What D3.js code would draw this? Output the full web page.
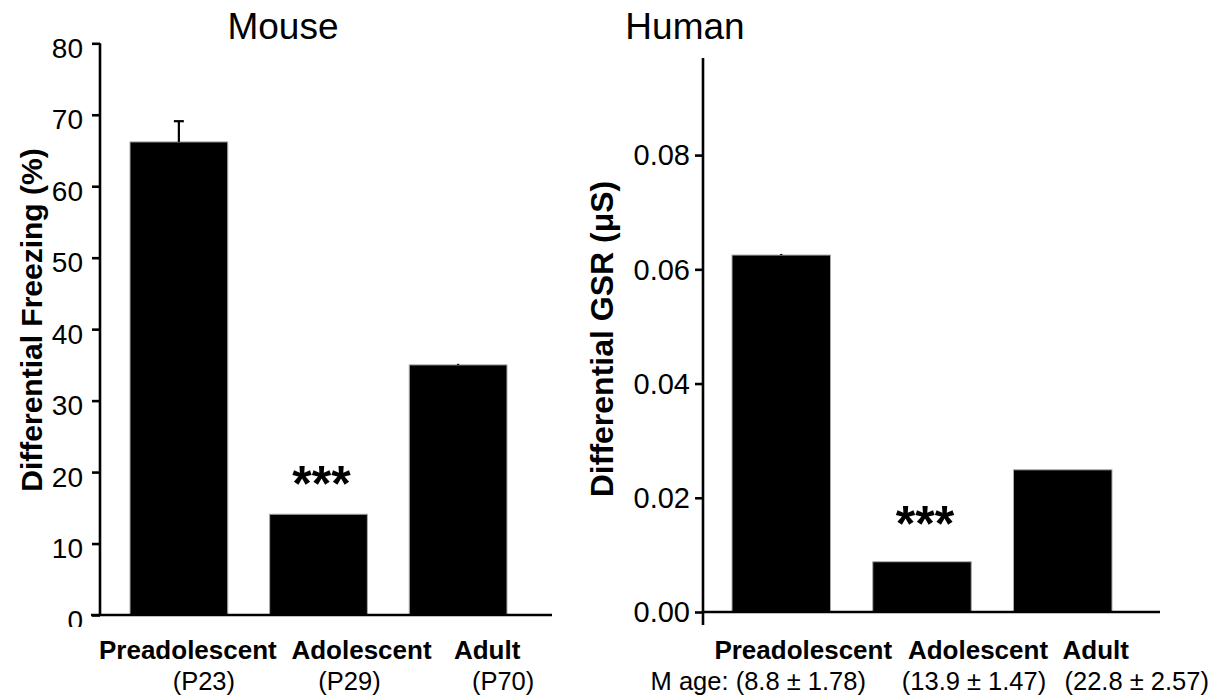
<!DOCTYPE html>
<html>
<head>
<meta charset="utf-8">
<script src="https://cdn.jsdelivr.net/npm/d3@7"></script>
<style>
  body { margin: 0; background: #fff; }
  text { font-family: "Liberation Sans", Arial, sans-serif; fill: #000; }
</style>
</head>
<body>
<svg id="chart" width="1216" height="698"></svg>
<script>
// values
const groups = ["Preadolescent", "Adolescent", "Adult"];
const mouseAges = ["(P23)", "(P29)", "(P70)"];
const humanAges = ["M age: (8.8 ± 1.78)", "(13.9 ± 1.47)", "(22.8 ± 2.57)"];

const mouseFreezing = [66.2, 14.1, 35.0];
const mouseErr = [2.9, 0, 0.15];
const mouseTicks = [0, 10, 20, 30, 40, 50, 60, 70, 80];

const humanGSR = [0.0625, 0.0088, 0.0249];
const humanErr = [0.0002, 0, 0];
const humanTicks = [0, 0.02, 0.04, 0.06, 0.08];

const svg = d3.select("#chart");

function drawPanel(p) {
  let g = svg.append("g");

  let x = d3.scaleBand()
    .domain(groups)
    .range(p.band)
    .paddingInner(0.3);

  let y = d3.scaleLinear()
    .domain(p.domain)
    .range(p.yRange);

  let mid = d => x(d) + x.bandwidth() / 2;

  g.append("text")
    .attr("x", p.titleX)
    .attr("y", 39)
    .attr("text-anchor", "middle")
    .attr("font-size", 37)
    .text(p.title);

  // bars
  g.selectAll("rect.bar")
    .data(p.values)
    .join("rect")
    .attr("class", "bar")
    .attr("x", (d, i) => x(groups[i]))
    .attr("width", x.bandwidth())
    .attr("y", d => y(d))
    .attr("height", d => y(0) - y(d))
    .attr("fill", "#000")
    .attr("stroke", "#aaa")
    .attr("stroke-width", 1);

  // error bars (upper half only), caps only when the bar is long enough to see
  let err = g.append("g").attr("stroke", "#000").attr("stroke-width", 2.2);
  p.values.forEach((v, i) => {
    if (!p.errors[i]) return;
    let cx = mid(groups[i]);
    let top = y(v + p.errors[i]);
    err.append("line")
      .attr("x1", cx).attr("x2", cx)
      .attr("y1", y(v)).attr("y2", top);
    if (y(v) - top > 4) {
      err.append("line")
        .attr("x1", cx - 5).attr("x2", cx + 5)
        .attr("y1", top).attr("y2", top);
    }
  });

  // baseline
  g.append("line")
    .attr("x1", p.baseX[0]).attr("x2", p.baseX[1])
    .attr("y1", y(0)).attr("y2", y(0))
    .attr("stroke", "#000")
    .attr("stroke-width", 2.6);

  // y axis
  let axisG = g.append("g")
    .attr("transform", "translate(" + p.axisX + ",0)")
    .call(d3.axisLeft(y)
      .tickValues(p.ticks)
      .tickFormat(d3.format(p.tickFormat))
      .tickSize(8)
      .tickPadding(p.tickPadding));

  axisG.select(".domain").remove();
  axisG.selectAll(".tick line").attr("stroke", "#000").attr("stroke-width", 2.6);
  axisG.selectAll(".tick text")
    .attr("font-family", null)
    .attr("font-size", p.tickFont)
    .attr("dy", p.tickDy)
    .attr("fill", "#000");

  if (p.clipBottom) {
    // the "0" label is cut off by the figure's lower edge in the original
    svg.append("clipPath").attr("id", p.id + "-clip")
      .append("rect")
      .attr("x", -p.axisX).attr("y", 0)
      .attr("width", 1216).attr("height", p.clipBottom);
    axisG.attr("clip-path", "url(#" + p.id + "-clip)");
  }

  g.append("line")
    .attr("x1", p.axisX).attr("x2", p.axisX)
    .attr("y1", p.axisY[0]).attr("y2", p.axisY[1])
    .attr("stroke", "#000")
    .attr("stroke-width", 2.6);

  g.append("text")
    .attr("transform", "translate(" + p.yLabelPos[0] + "," + p.yLabelPos[1] + ")rotate(-90)")
    .attr("text-anchor", "middle")
    .attr("font-weight", "bold")
    .attr("font-size", p.yLabelFont)
    .text(p.yLabel);

  // group names and ages under the bars
  g.selectAll("text.group")
    .data(groups)
    .join("text")
    .attr("class", "group")
    .attr("x", (d, i) => mid(d) + p.labelDx[i])
    .attr("y", 659)
    .attr("text-anchor", "middle")
    .attr("font-weight", "bold")
    .attr("font-size", 26)
    .text(d => d);

  g.selectAll("text.age")
    .data(p.ages)
    .join("text")
    .attr("class", "age")
    .attr("x", (d, i) => mid(groups[i]) + p.ageDx[i])
    .attr("y", 690)
    .attr("text-anchor", "middle")
    .attr("font-size", 25.5)
    .text(d => d);

  // significance marker over the adolescent bar
  g.append("text")
    .attr("x", mid(groups[1]) + 3)
    .attr("y", y(p.values[1]) - p.starGap)
    .attr("text-anchor", "middle")
    .attr("font-size", 50)
    .attr("font-weight", "bold")
    .text("***");
}

drawPanel({
  id: "mouse",
  title: "Mouse",
  titleX: 283,
  values: mouseFreezing,
  errors: mouseErr,
  ages: mouseAges,
  domain: [0, 80],
  yRange: [615, 43.3],
  band: [130, 507],
  ticks: mouseTicks,
  tickFormat: "d",
  tickFont: 28,
  tickPadding: 9,
  tickDy: "0.5em",
  clipBottom: 627,
  axisX: 100,
  axisY: [43.3, 615],
  baseX: [91, 552],
  yLabel: "Differential Freezing (%)",
  yLabelFont: 30,
  yLabelPos: [42, 320],
  labelDx: [9, 43, 29],
  ageDx: [25, 31, 45],
  starGap: 13
});

drawPanel({
  id: "human",
  title: "Human",
  titleX: 685,
  values: humanGSR,
  errors: humanErr,
  ages: humanAges,
  domain: [0, 0.097],
  yRange: [612, 58],
  band: [732, 1112],
  ticks: humanTicks,
  tickFormat: ".2f",
  tickFont: 29,
  tickPadding: 5,
  tickDy: "0.34em",
  clipBottom: null,
  axisX: 703,
  axisY: [58, 625],
  baseX: [703, 1160],
  yLabel: "Differential GSR (μS)",
  yLabelFont: 32,
  yLabelPos: [613, 339],
  labelDx: [22, 56, 33],
  ageDx: [-23, 52, 74],
  starGap: 21
});
</script>
</body>
</html>
